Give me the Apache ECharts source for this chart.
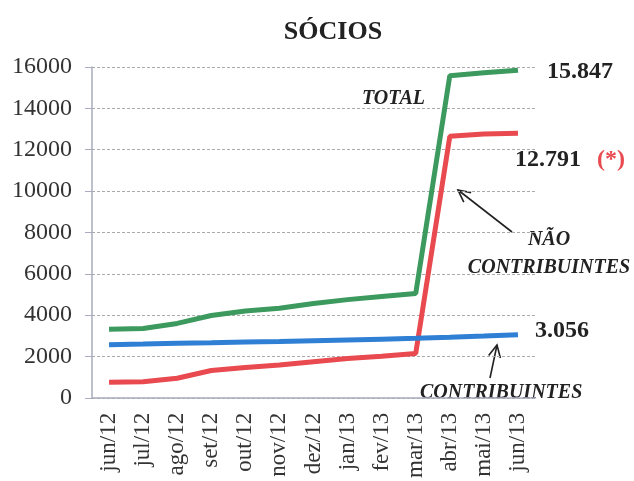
<!DOCTYPE html>
<html>
<head>
<meta charset="utf-8">
<script src="https://cdn.jsdelivr.net/npm/echarts@6/dist/echarts.min.js"></script>
<style>
  html, body { margin: 0; padding: 0; background: #fff; }
  #chart { width: 634px; height: 481px; }
</style>
</head>
<body>
<div id="chart"></div>
<script>
var months = ['jun/12', 'jul/12', 'ago/12', 'set/12', 'out/12', 'nov/12', 'dez/12',
  'jan/13', 'fev/13', 'mar/13', 'abr/13', 'mai/13', 'jun/13']
var total = [3320, 3350, 3600, 3980, 4200, 4330, 4560, 4750, 4900, 5050, 15580, 15720, 15847]
var naoContribuintes = [750, 780, 950, 1320, 1470, 1590, 1750, 1900, 2010, 2150, 12650, 12760, 12791]
var contribuintes = [2570, 2600, 2640, 2660, 2700, 2720, 2760, 2800, 2840, 2880, 2930, 2990, 3056]
var yTicks = { min: 0, max: 16000, interval: 2000 }

var serif = '"Liberation Serif", "DejaVu Serif", serif'
var green = '#3d9a5f'
var red = '#e84a4f'
var blue = '#2f7fd4'

function arrow (tail, tip) {
  var dx = tip[0] - tail[0]
  var dy = tip[1] - tail[1]
  var len = Math.sqrt(dx * dx + dy * dy)
  var ux = dx / len
  var uy = dy / len
  var bx = tip[0] - 12 * ux
  var by = tip[1] - 12 * uy
  return [{
    type: 'line',
    shape: { x1: tail[0], y1: tail[1], x2: tip[0], y2: tip[1] },
    style: { stroke: '#222', lineWidth: 1.6 }
  }, {
    type: 'polyline',
    shape: { points: [[bx - 6 * uy, by + 6 * ux], tip, [bx + 6 * uy, by - 6 * ux]] },
    style: { stroke: '#222', lineWidth: 1.6, fill: null }
  }]
}

var chart = echarts.init(document.getElementById('chart'))
var labelStyle = { fontFamily: serif, fontWeight: 'bold', fontStyle: 'italic', fontSize: 20, fill: '#222' }

chart.setOption({
  animation: false,
  title: {
    text: 'SÓCIOS',
    left: 328,
    top: 14,
    textAlign: 'center',
    textStyle: { fontFamily: serif, fontWeight: 'bold', fontSize: 26, color: '#222' }
  },
  grid: { left: 92, right: 99, top: 67, bottom: 80 },
  xAxis: {
    type: 'category',
    data: months,
    boundaryGap: true,
    axisLine: { lineStyle: { color: '#a9adbd', width: 1.5 } },
    axisTick: { length: 6, lineStyle: { color: '#a9adbd' } },
    axisLabel: { rotate: 90, margin: 15, fontFamily: serif, fontSize: 23, color: '#333', interval: 0 }
  },
  yAxis: {
    type: 'value',
    min: yTicks.min,
    max: yTicks.max,
    interval: yTicks.interval,
    axisLine: { show: true, lineStyle: { color: '#a9adbd', width: 1.5 } },
    axisTick: { show: true, length: 7, lineStyle: { color: '#a9adbd' } },
    axisLabel: {
      margin: 20, fontFamily: serif, fontSize: 24, color: '#333',
      formatter: function (v) { return String(v) }
    },
    splitLine: { lineStyle: { color: '#aaa', type: [3, 2], width: 1 } }
  },
  series: [{
    name: 'TOTAL',
    type: 'line',
    data: total,
    symbol: 'none',
    lineStyle: { color: green, width: 5 },
    endLabel: {
      show: true,
      distance: 29,
      offset: [0, 2],
      formatter: '15.847',
      fontFamily: serif, fontWeight: 'bold', fontSize: 24, color: '#222'
    }
  }, {
    name: 'NÃO CONTRIBUINTES',
    type: 'line',
    data: naoContribuintes,
    symbol: 'none',
    lineStyle: { color: red, width: 5 },
    endLabel: {
      show: true,
      distance: 5,
      offset: [-8, 26],
      formatter: '{a|12.791}{b|(*)}',
      rich: {
        a: { fontFamily: serif, fontWeight: 'bold', fontSize: 24, color: '#222', padding: [0, 16, 0, 0] },
        b: { fontFamily: serif, fontWeight: 'bold', fontSize: 24, color: red }
      }
    }
  }, {
    name: 'CONTRIBUINTES',
    type: 'line',
    data: contribuintes,
    symbol: 'none',
    lineStyle: { color: blue, width: 5 },
    endLabel: {
      show: true,
      distance: 17,
      offset: [0, -4],
      formatter: '3.056',
      fontFamily: serif, fontWeight: 'bold', fontSize: 24, color: '#222'
    }
  }],
  graphic: [
    { type: 'text', left: 362, top: 89, style: Object.assign({ text: 'TOTAL' }, labelStyle) },
    { type: 'text', x: 549, y: 226, style: Object.assign({ text: 'NÃO\nCONTRIBUINTES', textAlign: 'center', lineHeight: 28 }, labelStyle) },
    { type: 'text', left: 420, top: 383, style: Object.assign({ text: 'CONTRIBUINTES' }, labelStyle) }
  ].concat(arrow([512, 232], [458, 190]), arrow([490, 378], [497, 345]))
})
</script>
</body>
</html>
